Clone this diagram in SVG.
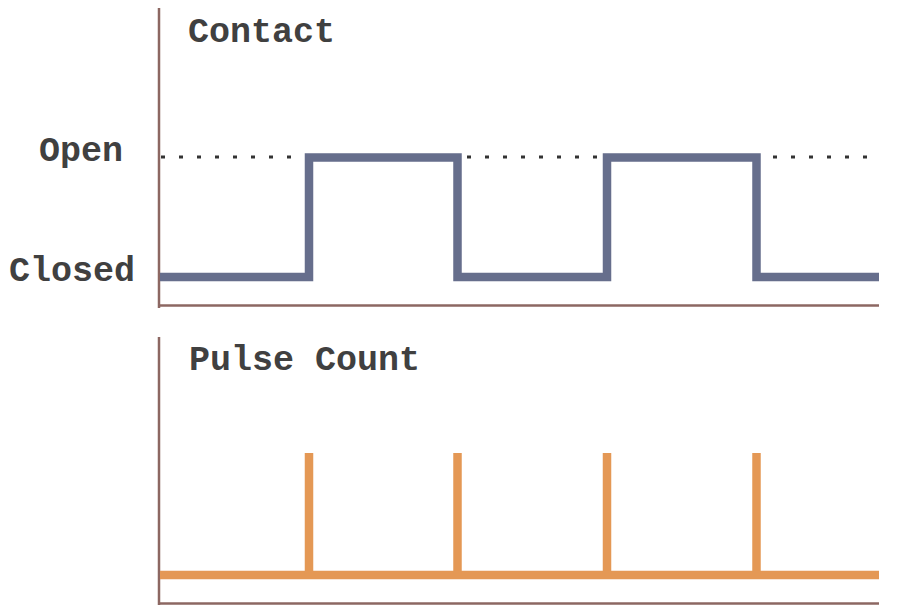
<svg xmlns="http://www.w3.org/2000/svg" width="899" height="605" viewBox="0 0 899 605">
<style>
.lbl{font-family:"Liberation Mono","Courier New",monospace;font-weight:bold;font-size:35px;fill:#404040}
.axis{stroke:#8c6762;stroke-width:2.5;fill:none}
.wave{stroke:#666e8c;stroke-width:8.5;fill:none;stroke-linejoin:miter}
.pulse{stroke:#e49855;stroke-width:8.5;fill:none}
.dots{stroke:#333;stroke-width:3;stroke-dasharray:4 14;fill:none}
</style>
<rect width="899" height="605" fill="#fff"/>
<g id="contact-chart">
<line class="axis" x1="159" y1="8" x2="159" y2="308"/>
<line class="axis" x1="159" y1="305.5" x2="879" y2="305.5"/>
<line class="dots" x1="161" y1="157" x2="879" y2="157"/>
<text class="lbl" x="188" y="42">Contact</text>
<text class="lbl" x="39" y="161">Open</text>
<text class="lbl" x="9" y="281">Closed</text>
</g>
<g id="pulse-chart">
<line class="axis" x1="159" y1="337" x2="159" y2="605"/>
<line class="axis" x1="159" y1="603.5" x2="879" y2="603.5"/>
<text class="lbl" x="189" y="370">Pulse Count</text>
</g>
<g id="connectors">
<polyline class="wave" points="160,277 309,277 309,157.5 457.5,157.5 457.5,277 607,277 607,157.5 756.5,157.5 756.5,277 879,277"/>
<line class="pulse" x1="160" y1="575" x2="879" y2="575"/>
<line class="pulse" x1="309" y1="453" x2="309" y2="575"/>
<line class="pulse" x1="457.5" y1="453" x2="457.5" y2="575"/>
<line class="pulse" x1="607" y1="453" x2="607" y2="575"/>
<line class="pulse" x1="756.5" y1="453" x2="756.5" y2="575"/>
</g>
</svg>
